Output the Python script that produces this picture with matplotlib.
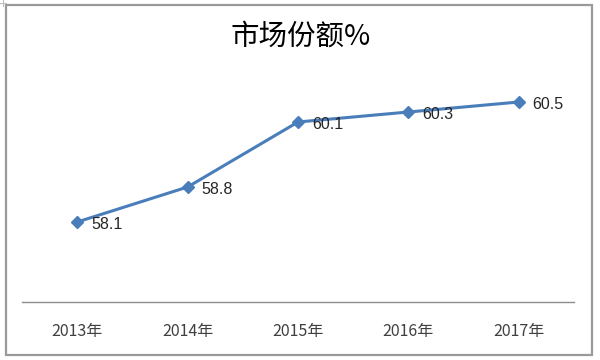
import matplotlib
matplotlib.use("Agg")
import matplotlib.pyplot as plt
from matplotlib.patches import Rectangle
from matplotlib.lines import Line2D

plt.rcParams['font.family'] = ['Noto Sans CJK SC', 'DejaVu Sans']

years = ["2013年", "2014年", "2015年", "2016年", "2017年"]
share = [58.1, 58.8, 60.1, 60.3, 60.5]
title = "市场份额%"

W, H = 600, 360
fig = plt.figure(figsize=(6, 3.6), dpi=100)
fig.patch.set_facecolor("white")

# outer chart border
border = Rectangle((6/W, 1-355/H), 586/W, 350/H, transform=fig.transFigure,
                   fill=False, edgecolor="#9a9a9a", linewidth=1.6)
fig.patches.append(border)
# small crop mark at top-left corner
fig.lines.append(Line2D([0, 6/W], [1-3/H, 1-3/H], transform=fig.transFigure,
                        color="#c0c0c0", linewidth=0.8))
fig.lines.append(Line2D([3/W, 3/W], [1, 1-6/H], transform=fig.transFigure,
                        color="#c0c0c0", linewidth=0.8))

ax = fig.add_axes([22/W, 1-302/H, 552/W, 250/H])
x = list(range(len(years)))
ax.plot(x, share, color="#4a7ebb", linewidth=2.2, marker="D",
        markersize=6.5, markerfacecolor="#4a7ebb", markeredgecolor="#4a7ebb")
for xi, v in zip(x, share):
    ax.annotate(f"{v}", (xi, v), xytext=(10, -1.5), textcoords="offset points",
                va="center", ha="left", fontsize=11.5, color="#262626",
                family=["Liberation Sans", "DejaVu Sans"])

ax.set_xlim(-0.5, len(years) - 0.5)
ax.set_ylim(56.5, 61.5)
ax.set_xticks(x)
ax.set_xticklabels(years, fontsize=11.5, color="#404040")
ax.tick_params(axis="x", length=0, pad=15)
ax.set_yticks([])
for s in ["top", "right", "left"]:
    ax.spines[s].set_visible(False)
ax.spines["bottom"].set_color("#8c8c8c")
ax.spines["bottom"].set_linewidth(1.0)

fig.text(301/W, 1-37/H, title, ha="center", va="center", fontsize=20.5, color="#000000")

fig.savefig("out.png", dpi=100, facecolor="white")
